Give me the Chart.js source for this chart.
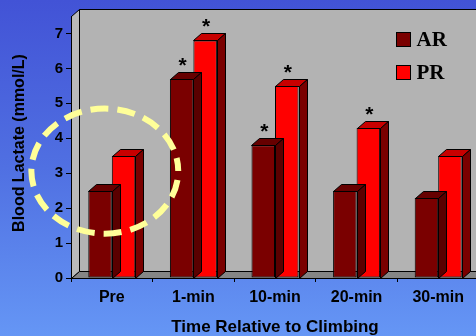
<!DOCTYPE html>
<html>
<head>
<meta charset="utf-8">
<script src="https://cdn.jsdelivr.net/npm/chart.js@4/dist/chart.umd.min.js"></script>
<style>
  html, body { margin: 0; padding: 0; overflow: hidden; width: 476px; height: 336px; background: #5577e6; }
  #wrap { width: 482px; height: 336px; }
</style>
</head>
<body>
<div id="wrap"><canvas id="c" width="482" height="336"></canvas></div>
<script>
// Blood lactate after climbing, two groups
const categories = ['Pre', '1-min', '10-min', '20-min', '30-min'];
const arValues = [2.5, 5.7, 3.8, 2.5, 2.3];
const prValues = [3.5, 6.8, 5.5, 4.3, 3.5];
// significance markers (*) per bar
const arSignificant = [false, true, true, false, false];
const prSignificant = [false, true, true, true, false];
const yTicks = [0, 1, 2, 3, 4, 5, 6, 7];
const yTitle = 'Blood Lactate (mmol/L)';

const SANS = '"Liberation Sans", Arial, sans-serif';
const SERIF = '"Liberation Serif", "Times New Roman", serif';
const DEPTH = { dx: 8, dy: 7 };

// faces of each 3D bar: front (dataset colour), top, side
const faces = [
  { front: '#7a0000', top: '#660000', side: '#5a0000' },
  { front: '#ff0000', top: '#c80000', side: '#7a0000' }
];

function poly(ctx, pts, fill) {
  ctx.beginPath();
  ctx.moveTo(pts[0][0], pts[0][1]);
  for (let i = 1; i < pts.length; i++) ctx.lineTo(pts[i][0], pts[i][1]);
  ctx.closePath();
  ctx.fillStyle = fill;
  ctx.fill();
  ctx.stroke();
}

const scene3d = {
  id: 'scene3d',
  beforeDraw(chart) {
    const { ctx, width, height, chartArea: a } = chart;
    const { dx, dy } = DEPTH;
    ctx.save();
    const g = ctx.createLinearGradient(0, 0, 0, height);
    g.addColorStop(0, '#4253d6');
    g.addColorStop(0.5, '#5070e2');
    g.addColorStop(1, '#6596f5');
    ctx.fillStyle = g;
    ctx.fillRect(0, 0, width, height);

    ctx.lineWidth = 1;
    ctx.strokeStyle = '#000';
    const L = Math.round(a.left) + 0.5, B = Math.round(a.bottom) + 0.5;
    const T = Math.round(a.top) + 0.5, R = width + 20;
    // back wall
    poly(ctx, [[L + dx, T - dy], [R, T - dy], [R, B - dy], [L + dx, B - dy]], '#b3b3b3');
    // left wall
    poly(ctx, [[L, B], [L, T], [L + dx, T - dy], [L + dx, B - dy]], '#bababa');
    // floor
    poly(ctx, [[L, B], [L + dx, B - dy], [R, B - dy], [R, B]], '#858585');

    // value axis title, rotated
    ctx.fillStyle = '#000';
    ctx.font = 'bold 16px ' + SANS;
    ctx.textAlign = 'center';
    ctx.textBaseline = 'middle';
    ctx.translate(20, (a.top + a.bottom) / 2 - 4);
    ctx.rotate(-Math.PI / 2);
    ctx.fillText(yTitle, 0, 0);
    ctx.restore();
  },
  afterDatasetDraw(chart, args) {
    const { ctx } = chart;
    const { dx, dy } = DEPTH;
    const f = faces[args.index];
    ctx.save();
    ctx.lineWidth = 1;
    ctx.strokeStyle = '#000';
    args.meta.data.forEach(bar => {
      const p = bar.getProps(['x', 'y', 'base', 'width'], true);
      const l = Math.round(p.x - p.width / 2) + 0.5;
      const r = Math.round(p.x + p.width / 2) + 0.5;
      const t = Math.round(p.y) + 0.5;
      const b = Math.round(p.base) + 0.5;
      poly(ctx, [[l, t], [l + dx, t - dy], [r + dx, t - dy], [r, t]], f.top);
      poly(ctx, [[r, t], [r + dx, t - dy], [r + dx, b - dy], [r, b]], f.side);
    });
    ctx.restore();
  },
  afterDatasetsDraw(chart) {
    const { ctx, chartArea: a, scales } = chart;
    const xs = scales.x, ys = scales.y;
    ctx.save();

    // significance asterisks
    const sig = [arSignificant, prSignificant];
    ctx.fillStyle = '#000';
    ctx.font = 'bold 21px ' + SANS;
    ctx.textAlign = 'center';
    ctx.textBaseline = 'alphabetic';
    chart.data.datasets.forEach((ds, di) => {
      chart.getDatasetMeta(di).data.forEach((bar, i) => {
        if (!sig[di][i]) return;
        ctx.fillText('*', bar.x + 1, bar.y - 7);
      });
    });

    // legend inside the plot
    ctx.lineWidth = 1;
    ctx.strokeStyle = '#000';
    const lx = Math.round(a.right - 83) + 0.5;
    chart.data.datasets.forEach((ds, di) => {
      const ty = Math.round(a.top + 16 + di * 33) + 0.5;
      ctx.fillStyle = ds.backgroundColor;
      ctx.fillRect(lx, ty, 14, 14);
      ctx.strokeRect(lx, ty, 14, 14);
      ctx.fillStyle = '#000';
      ctx.font = 'bold 21px ' + SERIF;
      ctx.textAlign = 'left';
      ctx.textBaseline = 'middle';
      ctx.fillText(ds.label, lx + 20, ty + 8);
    });

    // dashed highlight round the first time point
    const cat = xs.getPixelForValue(0);
    const catW = xs.width / categories.length;
    const cx = cat - 7;
    const cy = ys.getPixelForValue(3.06);
    const rx = catW * 0.9;
    const ry = ys.getPixelForValue(0) - ys.getPixelForValue(1.79);
    ctx.beginPath();
    ctx.ellipse(cx, cy, rx, ry, 0, 0, Math.PI * 2);
    ctx.strokeStyle = '#ffff99';
    ctx.lineWidth = 6;
    ctx.setLineDash([18, 9]);
    ctx.lineDashOffset = 18;
    ctx.stroke();
    ctx.restore();
  }
};

new Chart(document.getElementById('c'), {
  type: 'bar',
  data: {
    labels: categories,
    datasets: [
      { label: 'AR', data: arValues, backgroundColor: faces[0].front, borderColor: '#000', borderWidth: 1, borderSkipped: false },
      { label: 'PR', data: prValues, backgroundColor: faces[1].front, borderColor: '#000', borderWidth: 1, borderSkipped: false }
    ]
  },
  options: {
    responsive: false,
    animation: false,
    events: [],
    layout: { padding: { top: 16, right: 3, left: 0, bottom: 0 } },
    datasets: { bar: { categoryPercentage: 0.576, barPercentage: 1.0 } },
    plugins: { legend: { display: false }, tooltip: { enabled: false } },
    scales: {
      x: {
        offset: true,
        grid: { display: true, drawOnChartArea: false, drawTicks: true, tickLength: 4, color: '#000', offset: true },
        border: { display: true, color: '#000', width: 1 },
        ticks: { color: '#000', font: { family: SANS, size: 16, weight: 'bold' }, padding: 6, maxRotation: 0 },
        title: { display: true, text: 'Time Relative to Climbing', color: '#000',
                 font: { family: SANS, size: 17, weight: 'bold', lineHeight: 1 }, padding: 0 },
        afterFit(s) { s.height = 58; }
      },
      y: {
        min: 0,
        max: 7.5,
        grid: { display: true, drawOnChartArea: false, drawTicks: true, tickLength: 5, color: '#000' },
        border: { display: true, color: '#000', width: 1 },
        ticks: { color: '#000', font: { family: SANS, size: 15, weight: 'bold' }, padding: 3 },
        afterBuildTicks(s) { s.ticks = yTicks.map(v => ({ value: v })); },
        afterFit(s) { s.width = 71; }
      }
    }
  },
  plugins: [scene3d]
});
</script>
</body>
</html>
